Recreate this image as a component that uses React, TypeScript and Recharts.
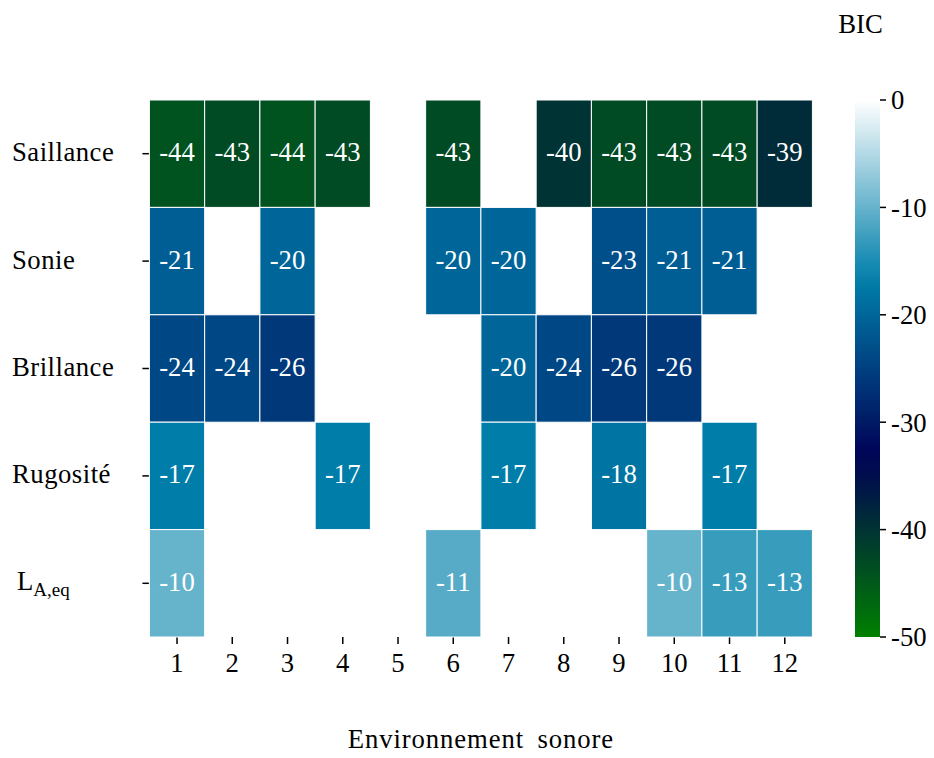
import { ScatterChart, Scatter, XAxis, YAxis, BarChart, Bar } from 'recharts'

// rows of the heatmap (top to bottom), one value per "Environnement sonore" 1..12, null = no cell
const ROW_LABELS = ['Saillance', 'Sonie', 'Brillance', 'Rugosité', 'LA,eq']
const COLUMNS = [1, 2, 3, 4, 5, 6, 7, 8, 9, 10, 11, 12]
const saillance = [-44, -43, -44, -43, null, -43, null, -40, -43, -43, -43, -39]
const sonie = [-21, null, -20, null, null, -20, -20, null, -23, -21, -21, null]
const brillance = [-24, -24, -26, null, null, null, -20, -24, -26, -26, null, null]
const rugosite = [-17, null, null, -17, null, null, -17, null, -18, null, -17, null]
const laeq = [-10, null, null, null, null, -11, null, null, null, -10, -13, -13]
const BIC_TICKS = [0, -10, -20, -30, -40, -50]
const BIC_MIN = -50
const BIC_MAX = 0

const W = 934
const H = 758
const PLOT_LEFT = 149.4
const PLOT_RIGHT = 812.4
const PLOT_TOP = 100
const PLOT_BOTTOM = 637
const X_AXIS_H = 50
const CELL_W = (PLOT_RIGHT - PLOT_LEFT) / COLUMNS.length
const CELL_H = (PLOT_BOTTOM - PLOT_TOP) / ROW_LABELS.length
const FONT = 'Liberation Serif, DejaVu Serif, serif'
const FS = 26.7

// matplotlib "ocean" colormap
function ocean(t: number) {
  const c = (v: number) => Math.round(Math.max(0, Math.min(1, v)) * 255)
  return `rgb(${c(3 * t - 2)},${c(Math.abs(3 * t - 1) / 2)},${c(t)})`
}
const colorFor = (v: number) => ocean((v - BIC_MIN) / (BIC_MAX - BIC_MIN))

const rowsData = [saillance, sonie, brillance, rugosite, laeq]
const cells = rowsData.flatMap((vals, r) =>
  vals
    .map((v, i) => ({ col: COLUMNS[i], row: r, value: v }))
    .filter((d) => d.value !== null)
)

const gradientStops = Array.from({ length: 21 }, (_, i) => i / 20)

function Cell(props: any) {
  const { cx, cy, payload } = props
  if (cx == null || cy == null) return null
  return (
    <g>
      <rect
        x={cx - CELL_W / 2}
        y={cy - CELL_H / 2}
        width={CELL_W}
        height={CELL_H}
        fill={colorFor(payload.value)}
        stroke="#fff"
        strokeWidth={1}
      />
      <text x={cx} y={cy + 7.5} textAnchor="middle" fill="#fff" fontSize={FS} style={{ fontFamily: FONT }}>
        {payload.value}
      </text>
    </g>
  )
}

function RowTick({ y, payload }: any) {
  const label = ROW_LABELS[payload.value]
  if (label === 'LA,eq') {
    return (
      <text x={17} y={y + 7} fill="#000" fontSize={FS} style={{ fontFamily: FONT }}>
        <tspan>L</tspan>
        <tspan dy={6} fontSize={19}>A,eq</tspan>
      </text>
    )
  }
  return (
    <text x={12} y={y + 7.5} fill="#000" fontSize={FS} style={{ fontFamily: FONT }} letterSpacing={0.5}>
      {label}
    </text>
  )
}

const tickStyle = { fill: '#000', fontSize: FS, style: { fontFamily: FONT } }

export default function App() {
  return (
    <div style={{ position: 'absolute', left: 0, top: 0, width: W, height: H, background: '#fff', fontFamily: FONT }}>
      <ScatterChart
        width={W}
        height={H}
        margin={{ top: PLOT_TOP, right: W - PLOT_RIGHT, bottom: H - PLOT_BOTTOM - X_AXIS_H, left: 0 }}
        style={{ fontFamily: FONT }}
      >
        <XAxis
          type="number"
          dataKey="col"
          domain={[0.5, 12.5]}
          ticks={COLUMNS}
          height={X_AXIS_H}
          axisLine={false}
          tickLine={{ stroke: '#000', strokeWidth: 1.5 }}
          tickSize={7}
          tickMargin={9}
          tick={tickStyle}
        />
        <YAxis
          type="number"
          dataKey="row"
          domain={[-0.5, 4.5]}
          reversed
          ticks={[0, 1, 2, 3, 4]}
          width={PLOT_LEFT}
          axisLine={false}
          tickLine={{ stroke: '#000', strokeWidth: 1.5 }}
          tickSize={7}
          tick={<RowTick />}
        />
        <Scatter data={cells} shape={<Cell />} isAnimationActive={false} />
      </ScatterChart>

      <div style={{ position: 'absolute', left: 855, top: 0 }}>
        <BarChart
          width={100}
          height={H}
          data={[{ name: 'BIC', v: BIC_MIN }]}
          margin={{ top: PLOT_TOP, right: 0, bottom: H - PLOT_BOTTOM, left: 0 }}
          barCategoryGap="0%"
          style={{ fontFamily: FONT }}
        >
          <defs>
            <linearGradient id="cbar" x1="0" y1="0" x2="0" y2="1">
              {gradientStops.map((s) => (
                <stop key={s} offset={s} stopColor={ocean(1 - s)} />
              ))}
            </linearGradient>
          </defs>
          <XAxis dataKey="name" hide />
          <YAxis
            orientation="right"
            type="number"
            domain={[BIC_MIN, BIC_MAX]}
            ticks={BIC_TICKS}
            width={75}
            axisLine={false}
            tickLine={{ stroke: '#000', strokeWidth: 1.5 }}
            tickSize={6}
            tickMargin={5}
            tick={tickStyle}
          />
          <Bar dataKey="v" fill="url(#cbar)" isAnimationActive={false} />
        </BarChart>
      </div>

      <svg width={W} height={H} style={{ position: 'absolute', left: 0, top: 0, pointerEvents: 'none', fontFamily: FONT }}>
        <text x={860.5} y={33} textAnchor="middle" fill="#000" fontSize={FS}>
          BIC
        </text>
        <text
          x={(PLOT_LEFT + PLOT_RIGHT) / 2}
          y={748}
          textAnchor="middle"
          fill="#000"
          fontSize={FS}
          letterSpacing={0.9}
          wordSpacing={6}
        >
          Environnement sonore
        </text>
      </svg>
    </div>
  )
}
